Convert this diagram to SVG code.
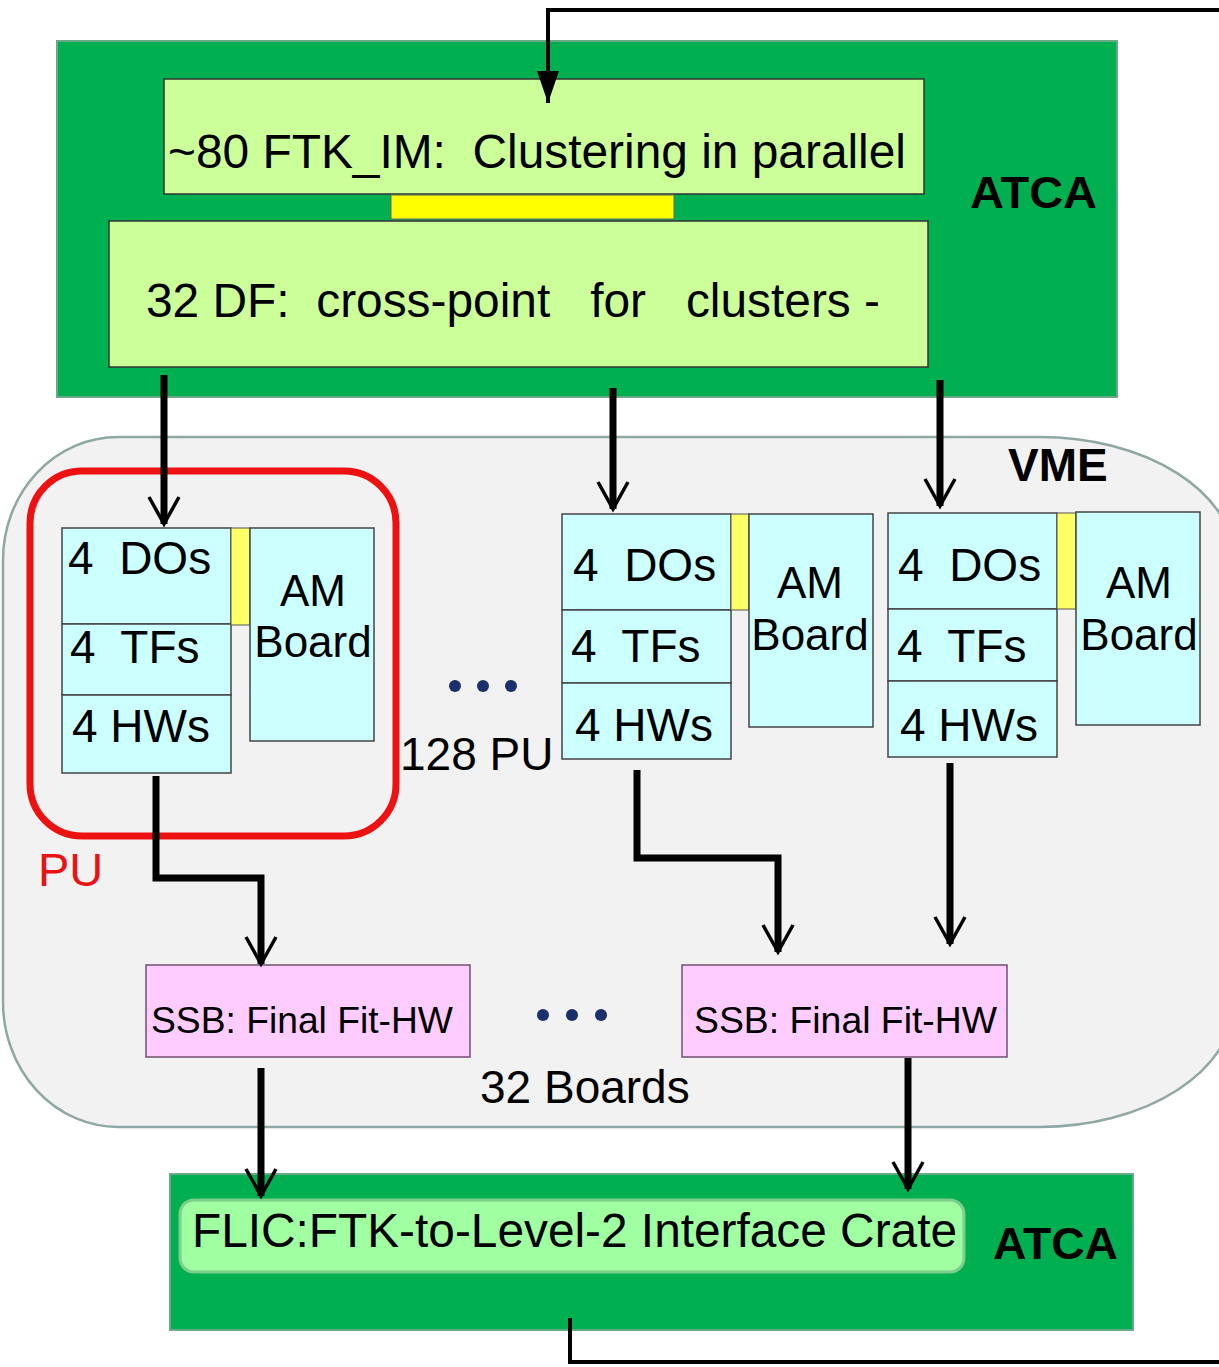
<svg xmlns="http://www.w3.org/2000/svg" width="1219" height="1367" viewBox="0 0 1219 1367">
<defs>
<style>
text{font-family:"Liberation Sans",Arial,sans-serif;fill:#000;white-space:pre}
.crate{fill:#00b050;stroke:#6aa888;stroke-width:2}
.lg{fill:#ccff99;stroke:#333;stroke-width:1.5}
.cy{fill:#ccffff;stroke:#444;stroke-width:1.5}
.yel{fill:#ffff66;stroke:#555;stroke-width:1}
.ssb{fill:#ffccff;stroke:#705070;stroke-width:1.5}
.bold{font-weight:bold}
.conn{fill:none;stroke:#000;stroke-width:7;stroke-linejoin:miter}
.dot{fill:#1a2f6b}
</style>
<marker id="v" markerUnits="userSpaceOnUse" viewBox="-32 -20 40 40" refX="0" refY="0" markerWidth="40" markerHeight="40" orient="auto" overflow="visible">
<path d="M -27 -15 L 0 0 L -27 15" fill="none" stroke="#000" stroke-width="3.5"/>
</marker>
<marker id="f" markerUnits="userSpaceOnUse" viewBox="-32 -20 40 40" refX="0" refY="0" markerWidth="40" markerHeight="40" orient="auto" overflow="visible">
<path d="M -32 -11 L 0 0 L -32 11 Z" fill="#000"/>
</marker>
</defs>
<rect width="1219" height="1367" fill="#fff"/>

<g id="vme">
<path d="M 118 437 H 1040 A 195 125 0 0 1 1235 562 V 1000 A 195 127 0 0 1 1040 1127 H 118 A 115 125 0 0 1 3 1002 V 560 A 115 123 0 0 1 118 437 Z" fill="#f2f2f2" stroke="#8ea8a4" stroke-width="2.5"/>
<text x="1008" y="481" font-size="46" class="bold">VME</text>
</g>

<g id="atca-top">
<rect x="57" y="41" width="1060" height="356" class="crate"/>
<text x="970" y="208" font-size="45" class="bold" textLength="127" lengthAdjust="spacingAndGlyphs">ATCA</text>
</g>
<g id="ftk-im">
<rect x="164" y="79" width="760" height="115" class="lg"/>
<text x="168" y="168" font-size="48" textLength="738" lengthAdjust="spacingAndGlyphs">~80 FTK_IM:  Clustering in parallel</text>
</g>
<g id="link">
<rect x="391" y="195" width="283" height="24" fill="#ffff00" stroke="#666" stroke-width="1"/>
</g>
<g id="df">
<rect x="109" y="221" width="819" height="146" class="lg"/>
<text x="146" y="317" font-size="48" textLength="734" lengthAdjust="spacingAndGlyphs">32 DF:  cross-point   for   clusters -</text>
</g>

<g id="pu-frame">
<rect x="30" y="471" width="366" height="365" rx="52" ry="52" fill="none" stroke="#ee1111" stroke-width="7"/>
<text x="38" y="886" font-size="47" style="fill:#ee1111">PU</text>
</g>

<g id="pu1">
<rect x="62" y="528" width="169" height="96" class="cy"/>
<rect x="62" y="624" width="169" height="71" class="cy"/>
<rect x="62" y="695" width="169" height="78" class="cy"/>
<rect x="231" y="528" width="19" height="97" class="yel"/>
<rect x="250" y="528" width="124" height="213" class="cy"/>
<text x="68" y="574" font-size="46">4  DOs</text>
<text x="70" y="663" font-size="46">4  TFs</text>
<text x="72" y="742" font-size="46">4 HWs</text>
<text x="313" y="606" font-size="44" text-anchor="middle">AM</text>
<text x="313" y="657" font-size="44" text-anchor="middle">Board</text>
</g>

<g id="pu2">
<rect x="562" y="514" width="169" height="96" class="cy"/>
<rect x="562" y="610" width="169" height="73" class="cy"/>
<rect x="562" y="683" width="169" height="76" class="cy"/>
<rect x="731" y="514" width="18" height="96" class="yel"/>
<rect x="749" y="514" width="124" height="213" class="cy"/>
<text x="573" y="581" font-size="46">4  DOs</text>
<text x="571" y="662" font-size="46">4  TFs</text>
<text x="575" y="741" font-size="46">4 HWs</text>
<text x="810" y="598" font-size="44" text-anchor="middle">AM</text>
<text x="810" y="650" font-size="44" text-anchor="middle">Board</text>
</g>

<g id="pu3">
<rect x="888" y="513" width="169" height="96" class="cy"/>
<rect x="888" y="609" width="169" height="72" class="cy"/>
<rect x="888" y="681" width="169" height="76" class="cy"/>
<rect x="1057" y="513" width="19" height="96" class="yel"/>
<rect x="1076" y="512" width="124" height="213" class="cy"/>
<text x="898" y="581" font-size="46">4  DOs</text>
<text x="897" y="662" font-size="46">4  TFs</text>
<text x="900" y="741" font-size="46">4 HWs</text>
<text x="1139" y="598" font-size="44" text-anchor="middle">AM</text>
<text x="1139" y="650" font-size="44" text-anchor="middle">Board</text>
</g>

<g id="pu-count">
<circle cx="455" cy="686" r="6" class="dot"/>
<circle cx="483" cy="686" r="6" class="dot"/>
<circle cx="511" cy="686" r="6" class="dot"/>
<text x="400" y="770" font-size="46">128 PU</text>
</g>

<g id="ssb1">
<rect x="146" y="965" width="324" height="92" class="ssb"/>
<text x="151" y="1033" font-size="37" textLength="302" lengthAdjust="spacingAndGlyphs">SSB: Final Fit-HW</text>
</g>
<g id="ssb2">
<rect x="682" y="965" width="325" height="92" class="ssb"/>
<text x="694" y="1033" font-size="37" textLength="303" lengthAdjust="spacingAndGlyphs">SSB: Final Fit-HW</text>
</g>
<g id="ssb-count">
<circle cx="543" cy="1015" r="6" class="dot"/>
<circle cx="572" cy="1015" r="6" class="dot"/>
<circle cx="601" cy="1015" r="6" class="dot"/>
<text x="480" y="1103" font-size="46">32 Boards</text>
</g>

<g id="atca-bottom">
<rect x="170" y="1174" width="963" height="156" class="crate"/>
<text x="993" y="1259" font-size="45" class="bold" textLength="125" lengthAdjust="spacingAndGlyphs">ATCA</text>
</g>
<g id="flic">
<rect x="180" y="1200" width="784" height="72" rx="14" ry="14" fill="#a0ffa0" stroke="#7bcf8b" stroke-width="3"/>
<text x="192" y="1247" font-size="48" textLength="765" lengthAdjust="spacingAndGlyphs">FLIC:FTK-to-Level-2 Interface Crate</text>
</g>

<g id="connectors">
<path class="conn" d="M 164 375 V 524" marker-end="url(#v)"/>
<path class="conn" d="M 613 388 V 509" marker-end="url(#v)"/>
<path class="conn" d="M 940 380 V 506" marker-end="url(#v)"/>
<path class="conn" d="M 156 776 V 878 H 261 V 964" marker-end="url(#v)"/>
<path class="conn" d="M 637 770 V 858 H 778 V 952" marker-end="url(#v)"/>
<path class="conn" d="M 950 763 V 944" marker-end="url(#v)"/>
<path class="conn" d="M 261 1068 V 1196" marker-end="url(#v)"/>
<path class="conn" d="M 908 1058 V 1189" marker-end="url(#v)"/>
<path d="M 570 1318 V 1362 H 1226 V 10 H 548 V 103" fill="none" stroke="#000" stroke-width="4" marker-end="url(#f)"/>
</g>
</svg>
